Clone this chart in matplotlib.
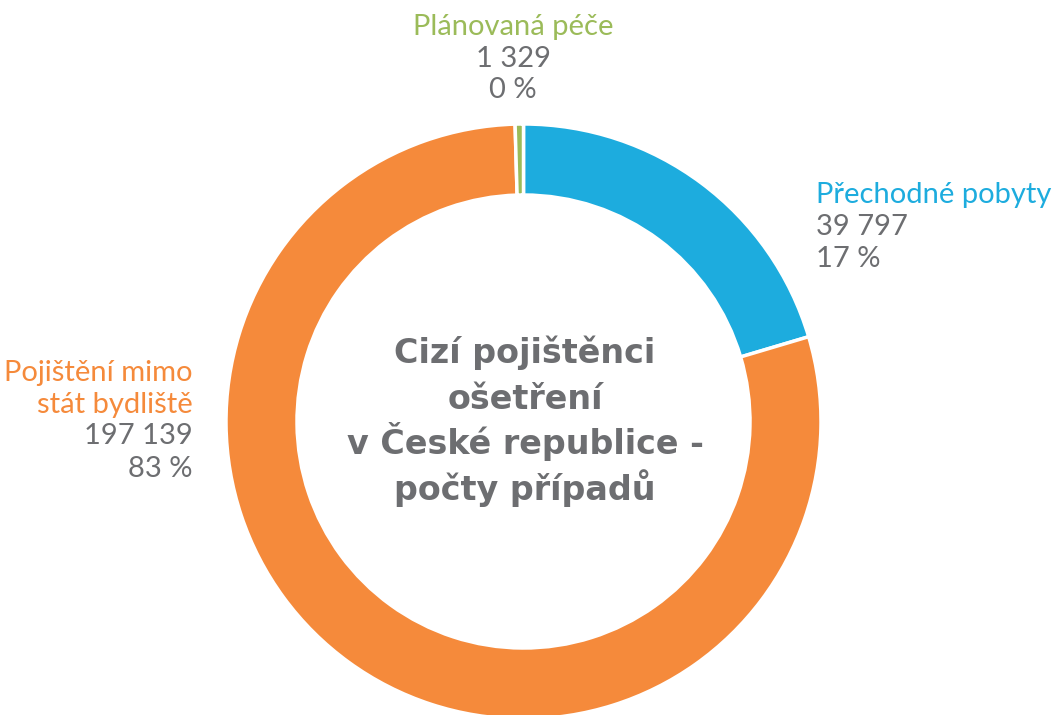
"""Cizí pojištěnci ošetření v ČR - prstencový graf"""

import matplotlib.pyplot as plt

# data
categories = ["Přechodné pobyty", "Pojištění mimo\nstát bydliště", "Plánovaná péče"]
counts = [39797, 197139, 1329]
pct_labels = [17, 83, 0]
# velikost výsečí tak, jak jsou nakreslené v originálu (%)
drawn_share = [20.4, 79.15, 0.45]
colors = ["#1DACDE", "#F58A3B", "#9BBB59"]
label_colors = ["#1DACDE", "#F58A3B", "#9BBB59"]
gray = "#6D6E71"

W, H = 1061, 715

plt.rcParams["font.family"] = ["Lato", "DejaVu Sans"]

fig = plt.figure(figsize=(W / 100, H / 100), dpi=100)
ax = fig.add_axes([0, 0, 1, 1])

ax.pie(
    drawn_share,
    colors=colors,
    startangle=90,
    counterclock=False,
    radius=297.5,
    center=(523.5, H - 421.5),
    wedgeprops=dict(width=71, edgecolor="white", linewidth=2.5),
)
ax.set_xlim(0, W)
ax.set_ylim(0, H)
ax.set_aspect("equal")
ax.axis("off")


def fmt(n):
    return f"{n:,}".replace(",", " ")


lab_fs = 21
lab_font = ["Lato", "DejaVu Sans"]
# Přechodné pobyty
ax.text(816, H - 203, categories[0], color=label_colors[0], fontsize=lab_fs,
        family=lab_font, ha="left", va="baseline")
ax.text(816, H - 235, fmt(counts[0]), color=gray, fontsize=lab_fs,
        family=lab_font, ha="left", va="baseline")
ax.text(816, H - 267, f"{pct_labels[0]} %", color=gray, fontsize=lab_fs,
        family=lab_font, ha="left", va="baseline")

# Pojištění mimo stát bydliště
l1, l2 = categories[1].split("\n")
ax.text(193, H - 381, l1, color=label_colors[1], fontsize=lab_fs,
        family=lab_font, ha="right", va="baseline")
ax.text(193, H - 413, l2, color=label_colors[1], fontsize=lab_fs,
        family=lab_font, ha="right", va="baseline")
ax.text(193, H - 444, fmt(counts[1]), color=gray, fontsize=lab_fs,
        family=lab_font, ha="right", va="baseline")
ax.text(193, H - 477, f"{pct_labels[1]} %", color=gray, fontsize=lab_fs,
        family=lab_font, ha="right", va="baseline")

# Plánovaná péče
ax.text(513, H - 35, categories[2], color=label_colors[2], fontsize=lab_fs,
        family=lab_font, ha="center", va="baseline")
ax.text(513, H - 67, fmt(counts[2]), color=gray, fontsize=lab_fs,
        family=lab_font, ha="center", va="baseline")
ax.text(513, H - 98, f"{pct_labels[2]} %", color=gray, fontsize=lab_fs,
        family=lab_font, ha="center", va="baseline")

# nadpis uprostřed
title_lines = ["Cizí pojištěnci", "ošetření", "v České republice -", "počty případů"]
for i, line in enumerate(title_lines):
    ax.text(525, H - (363 + i * 45.7), line, color=gray, fontsize=24,
            family=["DejaVu Sans"], fontweight="bold", ha="center", va="baseline")

fig.savefig("out.png", dpi=100)
